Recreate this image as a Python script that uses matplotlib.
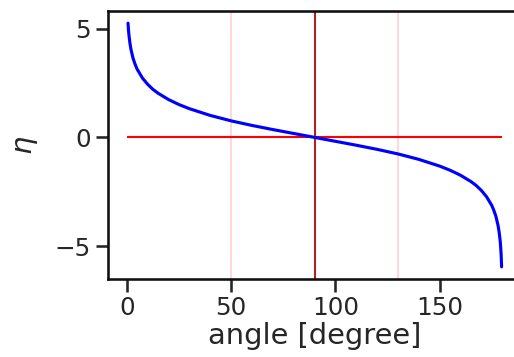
import matplotlib
matplotlib.use("Agg")
import matplotlib.pyplot as plt
import seaborn as sns

sns.set_theme(context="talk", style="ticks")
plt.rcParams['font.family'] = ['DejaVu Sans']

# angle [degree] and eta
angle = [0.6, 0.8, 1.0, 1.5, 2.0, 3.0, 4.0, 5.0, 7.5, 10, 12.5, 15, 20, 25,
         30, 40, 50, 60, 70, 80, 90, 100, 110, 120, 130, 140, 150, 155, 160,
         165, 167.5, 170, 172.5, 175, 176, 177, 178, 178.5, 179.0, 179.2,
         179.5, 179.7]
eta = [5.25, 4.96, 4.74, 4.34, 4.05, 3.64, 3.36, 3.13, 2.73, 2.44, 2.21,
       2.03, 1.74, 1.51, 1.32, 1.01, 0.76, 0.55, 0.36, 0.18, 0.0, -0.18,
       -0.36, -0.55, -0.76, -1.01, -1.32, -1.51, -1.74, -2.03, -2.21, -2.44,
       -2.73, -3.13, -3.36, -3.64, -4.05, -4.34, -4.74, -4.96, -5.43, -5.95]

ref_angle = 90
side_angles = [50, 130]
hline_range = [0, 180]

fig = plt.figure(figsize=(5.14, 3.57), dpi=100)
ax = fig.add_axes([108 / 514, 78 / 357, 413 / 514, 268 / 357])

for a in side_angles:
    ax.axvline(a, color='red', alpha=0.15, lw=1.5)
ax.axvline(ref_angle, color='#b22222', lw=1.5)
ax.hlines(0, hline_range[0], hline_range[1], color='red', lw=1.5)
ax.plot(angle, eta, color='blue', lw=2.25)

ax.set_xlim(-9, 189)
ax.set_xticks([0, 50, 100, 150])
ax.set_yticks([-5, 0, 5])
ax.tick_params(labelsize=17.7)
ax.set_xlabel('angle [degree]', fontsize=20.8, labelpad=1)
ax.set_ylabel(r'$\eta$', fontsize=20.8, labelpad=10)
# the right spine falls just outside the canvas in the original
ax.spines['right'].set_visible(False)
for s in ax.spines.values():
    s.set_color('#111111')

fig.savefig('out.png', dpi=100)
